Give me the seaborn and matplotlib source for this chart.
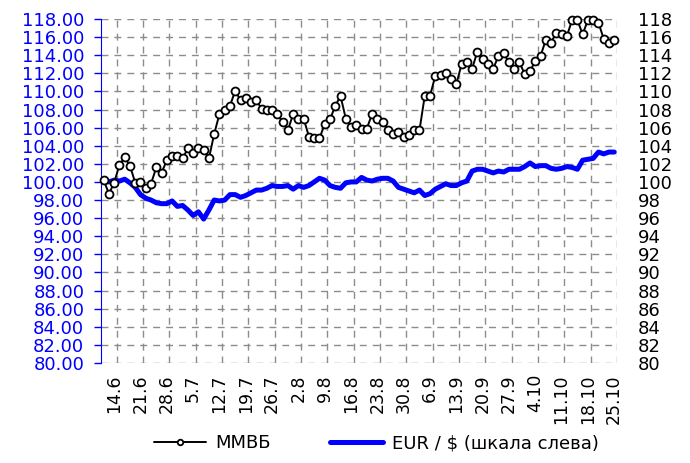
import numpy as np
import pandas as pd
import seaborn as sns
import matplotlib.pyplot as plt

# weekly labels under the x axis
week_labels = ['14.6', '21.6', '28.6', '5.7', '12.7', '19.7', '26.7', '2.8', '9.8', '16.8',
               '23.8', '30.8', '6.9', '13.9', '20.9', '27.9', '4.10', '11.10', '18.10', '25.10']

# MMVB index (right scale), one value per trading day
micex = [100.2, 98.7, 99.9, 101.9, 102.7, 101.8, 99.9, 100.0, 99.3, 99.8,
         101.6, 101.0, 102.4, 102.9, 102.9, 102.6, 103.7, 103.2, 103.7, 103.5,
         102.6, 105.3, 107.5, 108.0, 108.4, 110.1, 109.0, 109.3, 108.8, 109.0,
         108.1, 107.9, 107.9, 107.5, 106.6, 105.7, 107.5, 107.0, 107.0, 105.0,
         104.8, 104.8, 106.4, 106.9, 108.4, 109.5, 107.0, 106.1, 106.3, 105.9,
         105.9, 107.5, 107.0, 106.6, 105.7, 105.3, 105.5, 105.0, 105.2, 105.7,
         105.7, 109.5, 109.5, 111.7, 111.8, 112.0, 111.4, 110.8, 113.0, 113.3,
         112.5, 114.4, 113.6, 113.0, 112.5, 113.9, 114.2, 113.2, 112.5, 113.2,
         111.9, 112.2, 113.4, 113.9, 115.7, 115.4, 116.5, 116.3, 116.1, 117.9,
         117.9, 116.3, 117.9, 117.9, 117.6, 115.8, 115.4, 115.7]

# EUR/USD (left scale)
eurusd = [100.1, 100.0, 100.2, 100.1, 100.3, 99.9, 99.4, 98.6, 98.2, 98.0,
          97.7, 97.6, 97.6, 97.9, 97.3, 97.4, 96.9, 96.3, 96.7, 95.9,
          96.9, 98.0, 97.9, 98.0, 98.6, 98.6, 98.3, 98.5, 98.8, 99.1,
          99.1, 99.3, 99.6, 99.5, 99.5, 99.6, 99.2, 99.6, 99.4, 99.6,
          100.0, 100.4, 100.2, 99.6, 99.4, 99.3, 99.9, 100.0, 100.0, 100.5,
          100.2, 100.1, 100.3, 100.4, 100.4, 100.1, 99.4, 99.2, 99.0, 98.8,
          99.1, 98.5, 98.7, 99.2, 99.5, 99.8, 99.6, 99.6, 99.9, 100.1,
          101.2, 101.4, 101.4, 101.2, 101.0, 101.2, 101.1, 101.4, 101.4, 101.4,
          101.7, 102.1, 101.7, 101.8, 101.8, 101.5, 101.4, 101.5, 101.7, 101.6,
          101.4, 102.4, 102.5, 102.6, 103.3, 103.1, 103.3, 103.3]

df = pd.DataFrame({'day': np.arange(len(micex)), 'micex': micex, 'eurusd': eurusd})

sns.set_style('white')
plt.rcParams['font.family'] = ['DejaVu Sans']
plt.rcParams['text.color'] = 'black'
plt.rcParams['xtick.color'] = 'black'
plt.rcParams['ytick.color'] = 'black'
blue = '#0000ff'

fig = plt.figure(figsize=(6.9, 4.63), dpi=100)
ax = fig.add_axes([0.1464, 0.216, 0.7476, 0.743])
ax2 = ax.twinx()

sns.lineplot(data=df, x='day', y='eurusd', ax=ax, color=blue, lw=3.6, legend=False)
sns.lineplot(data=df, x='day', y='micex', ax=ax2, color='black', lw=1.4,
             marker='o', markersize=5.7, markerfacecolor='white',
             markeredgecolor='black', markeredgewidth=1.3, legend=False, clip_on=False)

n = len(micex)
ax.set_xlim(-0.5, n - 0.5)
for a in (ax, ax2):
    a.set_ylim(80, 118)
    a.set_xlabel('')
    a.set_ylabel('')
    for s in a.spines.values():
        s.set_visible(False)

yt = np.arange(80, 119, 2)
ax.set_yticks(yt)
ax.set_yticklabels(['%.2f' % v for v in yt], color=blue, fontsize=13)
ax.spines['left'].set_visible(True)
ax.spines['left'].set_color(blue)
ax.tick_params(axis='y', colors=blue, length=5, width=1, pad=7, direction='out', left=True)

ax2.set_yticks(yt)
ax2.set_yticklabels(['%d' % v for v in yt], fontsize=13, color='black')
ax2.tick_params(axis='y', length=0, pad=15, labelcolor='black')

# labels every week, gridlines between
ax.set_xticks(np.arange(len(week_labels)) * 5 + 2.0)
ax.set_xticklabels(week_labels, rotation=90, fontsize=12.5, color='black')
ax.set_xticks(np.arange(len(week_labels)) * 5 + 2.5, minor=True)
ax.tick_params(axis='x', which='both', length=0, pad=8)

grid_kw = dict(color='#8c8c8c', linewidth=1, linestyle=(0, (5, 4.3)))
ax.grid(axis='x', which='minor', **grid_kw)
ax.grid(axis='y', which='major', **grid_kw)
ax.grid(axis='x', which='major', visible=False)
ax.set_axisbelow(True)

handles = [ax2.lines[0], ax.lines[0]]
fig.legend(handles, ['ММВБ', 'EUR / $ (шкала слева)'], loc='lower center',
           bbox_to_anchor=(0.545, -0.012), ncol=2, frameon=False, fontsize=13,
           handlelength=2.9, columnspacing=3.3, handletextpad=0.5, markerscale=0.7,
           labelcolor='black')

fig.savefig('out.png', dpi=100)
